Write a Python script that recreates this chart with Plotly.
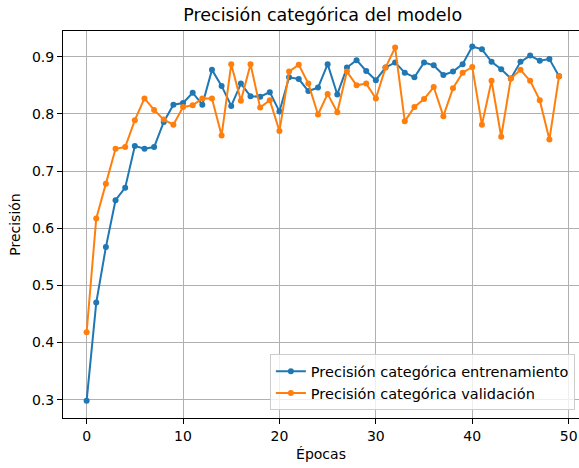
import plotly.graph_objects as go

epocas = list(range(50))
entrenamiento = [0.298, 0.470, 0.567, 0.649, 0.671, 0.744, 0.739, 0.742, 0.786, 0.816,
                 0.819, 0.837, 0.816, 0.877, 0.849, 0.814, 0.853, 0.831, 0.830, 0.838,
                 0.804, 0.864, 0.861, 0.840, 0.846, 0.887, 0.834, 0.881, 0.894, 0.875,
                 0.859, 0.881, 0.890, 0.872, 0.864, 0.890, 0.885, 0.868, 0.874, 0.887,
                 0.918, 0.913, 0.891, 0.878, 0.862, 0.891, 0.902, 0.893, 0.896, 0.866]
validacion = [0.418, 0.617, 0.678, 0.739, 0.742, 0.789, 0.827, 0.807, 0.790, 0.781,
              0.812, 0.815, 0.827, 0.827, 0.762, 0.887, 0.823, 0.887, 0.811, 0.824,
              0.770, 0.874, 0.886, 0.853, 0.799, 0.835, 0.803, 0.874, 0.850, 0.853,
              0.827, 0.881, 0.916, 0.787, 0.812, 0.826, 0.847, 0.796, 0.845, 0.872,
              0.882, 0.781, 0.858, 0.760, 0.862, 0.877, 0.858, 0.824, 0.755, 0.866]
x_ticks = [0, 10, 20, 30, 40, 50]
y_ticks = [0.3, 0.4, 0.5, 0.6, 0.7, 0.8, 0.9]

FONT = "DejaVu Sans"

fig = go.Figure()
fig.add_trace(go.Scatter(x=epocas, y=entrenamiento, mode="lines+markers",
                         name="Precisión categórica entrenamiento",
                         line=dict(color="#1f77b4", width=2),
                         marker=dict(color="#1f77b4", size=6)))
fig.add_trace(go.Scatter(x=epocas, y=validacion, mode="lines+markers",
                         name="Precisión categórica validación",
                         line=dict(color="#ff7f0e", width=2),
                         marker=dict(color="#ff7f0e", size=6)))

fig.update_layout(
    width=579, height=468,
    margin=dict(l=63, r=0, t=31, b=50, autoexpand=False),
    paper_bgcolor="white", plot_bgcolor="white",
    font=dict(family=FONT, size=14, color="#000000"),
    title=dict(text="Precisión categórica del modelo", x=(322.7) / 579, xanchor="center",
               y=1 - 15 / 468, yanchor="middle", font=dict(size=17.5, family=FONT, color="#000000")),
    showlegend=True,
    legend=dict(x=0.992, xanchor="right", y=0.02, yanchor="bottom",
                bgcolor="rgba(255,255,255,0.8)", bordercolor="#cccccc", borderwidth=1,
                font=dict(size=14.5, family=FONT, color="#000000"),
                itemwidth=30, tracegroupgap=0),
    xaxis=dict(range=[-2.45, 51.07], tickvals=x_ticks, ticktext=[str(t) for t in x_ticks],
               automargin=False,
               showgrid=True, gridcolor="#b0b0b0", gridwidth=1,
               showline=True, linecolor="black", linewidth=1, mirror=True,
               ticks="outside", ticklen=5, tickcolor="black", zeroline=False,
               title=dict(text="Épocas", standoff=6, font=dict(size=14, family=FONT))),
    yaxis=dict(range=[0.268, 0.945], tickvals=y_ticks, ticktext=[f"{t:.1f}" for t in y_ticks],
               automargin=False,
               showgrid=True, gridcolor="#b0b0b0", gridwidth=1,
               showline=True, linecolor="black", linewidth=1, mirror=False,
               ticks="outside", ticklen=5, tickcolor="black", zeroline=False,
               title=dict(text="Precisión", standoff=8, font=dict(size=14, family=FONT))),
)

fig.write_html("out.html", config={"displayModeBar": False},
               post_script="document.body.style.margin='0';document.body.style.padding='0';")
